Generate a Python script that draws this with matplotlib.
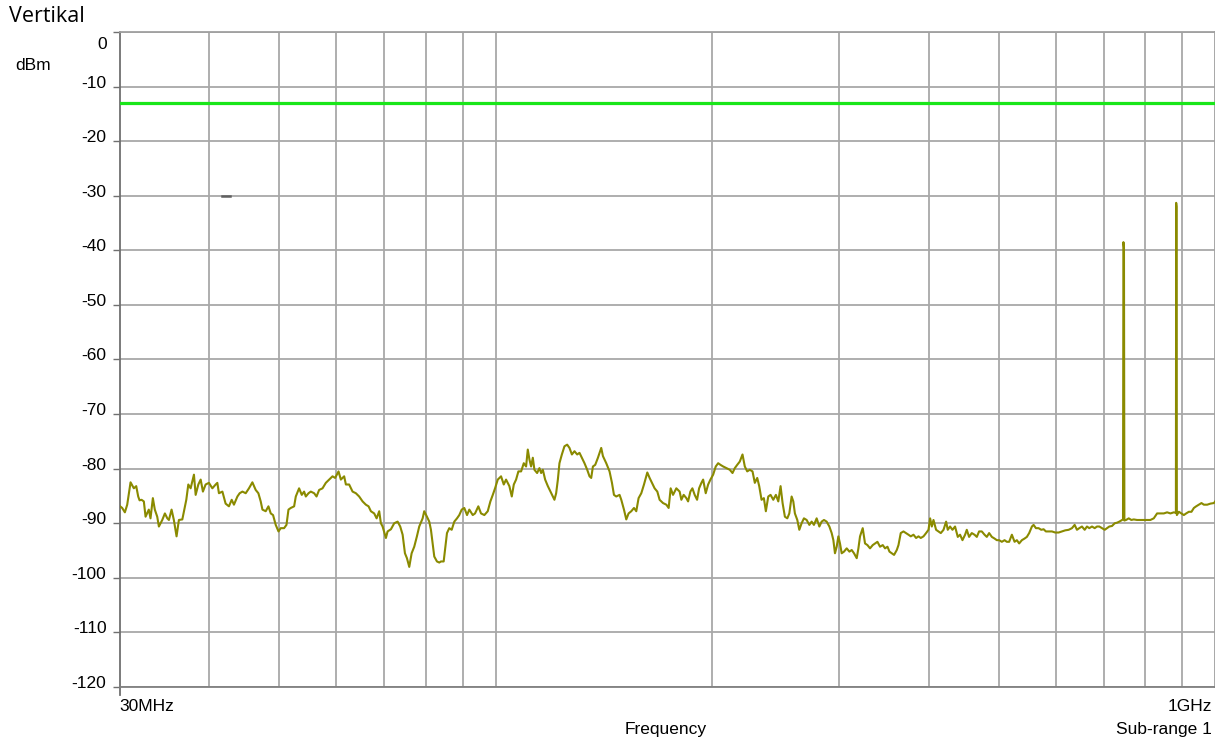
import numpy as np
import matplotlib.pyplot as plt
from matplotlib.ticker import NullLocator, NullFormatter
from matplotlib.transforms import offset_copy

## data (MHz, dBm)
freq_mhz = [
    30.00, 30.26, 30.52, 30.75, 31.08, 31.41, 31.65, 31.85, 31.99, 32.19, 32.43, 32.61, 32.95, 33.13, 33.38,
    33.59, 33.85, 34.03, 34.40, 34.69, 34.96, 35.14, 35.44, 35.70, 36.01, 36.28, 36.68, 36.87, 37.15, 37.39,
    37.67, 38.07, 38.28, 38.61, 38.90, 39.18, 39.52, 39.94, 40.38, 40.81, 41.03, 41.24, 41.70, 42.13, 42.58,
    42.96, 43.27, 43.75, 44.07, 44.46, 44.93, 45.40, 45.90, 46.39, 46.79, 47.14, 47.40, 47.90, 48.32, 48.68,
    49.04, 49.46, 49.90, 50.26, 50.80, 51.19, 51.52, 51.90, 52.46, 52.74, 53.30, 53.76, 54.16, 54.46, 54.93,
    55.34, 55.93, 56.36, 56.83, 57.45, 58.06, 58.68, 59.32, 59.82, 60.47, 60.92, 61.57, 61.91, 62.56, 63.25,
    63.92, 64.60, 65.31, 66.00, 66.57, 67.07, 67.78, 68.31, 68.88, 69.25, 69.63, 70.37, 70.75, 71.51, 72.27,
    73.06, 73.67, 74.24, 74.79, 75.27, 75.83, 76.41, 77.05, 77.71, 78.29, 79.15, 79.55, 80.25, 80.84, 81.28,
    81.73, 82.15, 82.86, 83.48, 83.93, 84.66, 85.02, 85.56, 86.19, 86.86, 87.59, 88.35, 89.00, 89.69, 90.44,
    91.23, 91.90, 92.92, 93.60, 94.59, 95.41, 96.43, 97.48, 98.31, 99.07, 99.79, 100.66, 101.73, 102.61, 103.37,
    104.47, 105.28, 105.96, 106.74, 107.53, 108.47, 109.40, 110.21, 110.81, 111.39, 111.99, 112.61, 113.19, 114.17, 115.02,
    115.65, 116.28, 117.14, 118.16, 119.15, 120.07, 120.68, 121.34, 122.01, 122.63, 123.58, 124.61, 125.70, 126.63, 127.61,
    128.67, 129.79, 130.75, 131.76, 132.86, 134.02, 135.01, 135.75, 136.49, 137.50, 138.70, 140.17, 140.94, 142.44, 143.95,
    145.07, 146.00, 147.07, 148.64, 149.46, 150.75, 151.87, 153.00, 154.32, 155.67, 156.81, 157.97, 159.35, 160.73, 162.44,
    163.65, 164.91, 166.29, 167.73, 168.97, 170.82, 172.65, 173.93, 175.05, 176.38, 178.26, 180.16, 181.15, 182.50, 184.07,
    185.09, 186.45, 187.66, 189.04, 190.50, 191.73, 193.15, 194.22, 195.84, 197.36, 198.81, 200.55, 202.22, 203.79, 205.30,
    207.09, 209.28, 211.51, 213.36, 214.94, 216.60, 218.39, 220.30, 221.93, 223.65, 225.52, 227.47, 229.16, 230.93, 232.41,
    234.14, 235.88, 237.39, 239.23, 241.01, 243.09, 245.14, 247.03, 248.85, 250.45, 252.31, 254.26, 255.89, 257.80, 259.19,
    260.52, 262.53, 264.22, 266.18, 268.16, 270.50, 272.84, 274.86, 276.88, 279.30, 281.72, 283.81, 285.92, 288.38, 290.90,
    293.06, 294.65, 296.16, 297.79, 299.40, 300.96, 302.60, 304.84, 307.50, 310.16, 312.46, 314.76, 317.51, 319.23, 320.89,
    323.67, 326.07, 328.59, 331.33, 334.22, 336.68, 339.28, 342.11, 345.10, 347.66, 350.35, 352.60, 355.22, 357.82, 360.95,
    362.91, 365.55, 368.75, 371.82, 374.70, 377.48, 380.78, 383.95, 386.92, 389.75, 393.16, 396.43, 399.50, 401.58, 403.76,
    405.94, 409.33, 412.49, 415.55, 419.18, 422.67, 424.90, 428.05, 431.36, 434.95, 438.75, 441.97, 445.39, 449.14, 451.58,
    454.93, 458.86, 462.87, 466.31, 469.72, 473.83, 477.97, 481.47, 485.05, 489.29, 493.51, 497.18, 500.87, 505.20, 509.61,
    513.35, 517.16, 521.68, 526.19, 530.10, 533.98, 538.65, 543.35, 547.33, 551.40, 556.22, 559.23, 563.39, 568.25, 573.04,
    577.47, 581.70, 586.78, 593.04, 599.36, 605.87, 612.33, 618.85, 625.63, 632.30, 637.76, 642.50, 647.27, 652.86, 658.57,
    663.39, 668.32, 674.16, 679.98, 685.03, 690.12, 696.08, 702.16, 707.31, 712.56, 718.79, 725.00, 730.38, 735.81, 742.17,
    744.50, 745.50, 746.80, 747.80, 751.81, 758.30, 764.62, 770.53, 778.74, 787.04, 795.66, 804.14, 812.63, 821.54, 830.29,
    839.14, 848.34, 857.38, 866.52, 876.01, 881.80, 882.60, 883.60, 884.50, 890.17, 897.59, 904.53, 911.25, 919.12, 926.87,
    934.04, 940.88, 949.10, 957.01, 964.41, 974.69, 985.08, 995.87, 1000.00,
]
level_dbm = [
    -86.8, -87.2, -88.0, -86.6, -82.5, -83.6, -83.2, -85.1, -85.8, -85.7, -86.0, -88.8, -87.5, -89.1, -85.4,
    -87.5, -88.8, -90.6, -89.4, -88.2, -89.1, -89.4, -87.5, -89.4, -92.4, -89.4, -89.3, -87.8, -85.7, -82.9,
    -83.6, -81.1, -84.8, -82.9, -82.0, -84.2, -82.9, -82.6, -83.6, -82.9, -82.6, -84.5, -84.2, -86.4, -86.9,
    -85.7, -86.6, -85.1, -84.5, -84.2, -84.5, -83.6, -82.5, -83.9, -84.5, -86.0, -87.5, -87.8, -86.9, -88.2,
    -88.5, -90.3, -91.5, -90.9, -90.9, -90.3, -87.5, -87.2, -86.9, -85.1, -83.6, -84.8, -84.2, -85.1, -84.5,
    -84.2, -84.5, -85.1, -83.9, -83.6, -82.6, -82.0, -81.4, -81.7, -80.5, -82.0, -81.4, -82.9, -82.9, -84.2,
    -84.5, -85.1, -86.0, -86.6, -86.9, -87.8, -88.2, -89.1, -87.8, -90.0, -90.6, -92.7, -91.5, -91.1, -90.0,
    -89.7, -90.6, -92.1, -95.5, -96.4, -98.0, -95.5, -94.3, -92.4, -90.6, -89.1, -87.8, -88.8, -89.7, -91.2,
    -93.7, -96.1, -97.0, -97.2, -97.0, -97.0, -94.9, -91.8, -90.9, -91.2, -89.7, -89.1, -88.5, -87.5, -87.2,
    -88.5, -87.5, -88.5, -88.2, -86.9, -88.2, -88.5, -87.8, -86.0, -84.8, -83.6, -82.0, -81.4, -82.9, -82.0,
    -83.2, -85.1, -82.9, -82.0, -80.5, -80.5, -79.0, -79.6, -76.5, -78.3, -79.6, -78.0, -80.2, -80.8, -79.9,
    -80.8, -80.2, -82.0, -83.2, -84.2, -85.1, -85.7, -84.5, -82.0, -79.0, -77.4, -75.9, -75.6, -76.2, -77.4,
    -76.8, -77.4, -77.1, -78.0, -79.0, -80.2, -81.4, -81.7, -79.6, -79.3, -78.0, -76.2, -77.7, -79.0, -80.5,
    -82.6, -84.8, -85.1, -84.8, -85.7, -87.5, -89.3, -88.2, -87.8, -87.2, -87.8, -85.4, -84.5, -82.9, -80.7,
    -81.7, -82.6, -83.6, -84.2, -85.7, -86.3, -86.6, -87.2, -83.6, -84.8, -83.6, -84.2, -85.7, -84.8, -85.4,
    -86.0, -84.2, -83.6, -84.8, -85.7, -83.6, -82.6, -82.0, -84.5, -82.9, -82.0, -81.1, -79.6, -79.0, -79.3,
    -79.6, -79.9, -80.2, -80.8, -79.9, -79.3, -78.7, -77.4, -79.6, -80.5, -80.2, -80.5, -82.6, -81.7, -83.2,
    -85.7, -85.4, -87.8, -85.1, -84.8, -85.7, -84.8, -86.0, -83.2, -86.3, -88.8, -89.1, -88.2, -85.1, -86.0,
    -88.2, -89.4, -91.2, -90.0, -89.1, -89.4, -90.3, -89.7, -90.3, -89.1, -90.6, -89.7, -89.4, -89.7, -90.6,
    -91.8, -93.1, -95.5, -94.3, -92.4, -93.7, -95.5, -95.2, -94.6, -95.2, -94.9, -95.5, -96.4, -94.6, -92.4,
    -90.9, -93.7, -94.0, -94.6, -94.0, -93.7, -93.4, -94.3, -94.0, -94.6, -94.3, -95.2, -95.5, -95.8, -94.9,
    -94.0, -91.8, -91.5, -91.8, -92.1, -92.4, -92.1, -92.7, -92.4, -92.7, -92.4, -91.8, -91.2, -89.1, -90.6,
    -89.4, -91.2, -91.5, -91.8, -91.2, -89.7, -91.2, -90.6, -91.2, -90.6, -92.5, -92.1, -93.1, -92.1, -91.2,
    -92.5, -91.8, -92.1, -92.5, -91.5, -91.5, -92.1, -92.5, -91.8, -92.5, -92.8, -93.1, -93.1, -93.4, -93.1,
    -93.4, -93.4, -92.1, -93.4, -93.1, -93.7, -93.1, -92.8, -92.5, -91.8, -90.6, -90.3, -90.9, -90.9, -91.2,
    -91.1, -91.5, -91.5, -91.5, -91.7, -91.7, -91.5, -91.3, -91.2, -90.9, -90.3, -91.2, -90.9, -90.6, -91.2,
    -90.6, -90.9, -90.6, -90.9, -90.6, -90.6, -90.9, -91.2, -90.9, -90.6, -90.5, -90.0, -89.9, -89.7, -89.4,
    -89.3, -38.5, -39.5, -89.5, -89.4, -89.1, -89.4, -89.3, -89.4, -89.4, -89.4, -89.4, -89.4, -89.1, -88.2,
    -88.2, -88.2, -88.0, -88.2, -88.0, -88.1, -31.3, -32.0, -88.5, -87.9, -88.2, -88.5, -88.2, -87.9, -87.9,
    -87.2, -86.9, -86.6, -86.3, -86.6, -86.6, -86.4, -86.3, -86.0,
]

limit_dbm = -13
grid_mhz = [40, 50, 60, 70, 80, 90, 100, 200, 300, 400, 500, 600, 700, 800, 900]
y_ticks = list(range(0, -121, -10))
y_labels = [str(v) for v in y_ticks]

plt.rcParams['font.family'] = ['Liberation Sans', 'DejaVu Sans']

W, H = 1215, 746
fig = plt.figure(figsize=(W / 100, H / 100), dpi=100)
ax = fig.add_axes([119.5 / W, 1 - 687 / H, 1095.7 / W, 655 / H])

ax.set_xscale('log')
ax.set_xlim(30, 1000)
ax.set_ylim(-120, 0)

ax.xaxis.set_minor_locator(NullLocator())
ax.xaxis.set_minor_formatter(NullFormatter())
ax.set_xticks(grid_mhz)
ax.set_xticklabels([''] * len(grid_mhz))
ax.tick_params(axis='x', length=0)
ax.set_yticks(y_ticks)
ax.set_yticklabels([''] * len(y_ticks))
ax.tick_params(axis='y', length=5, width=1, color='#707070')

# y labels sit on their grid line, "0" hangs below the top edge
lab_tr = offset_copy(ax.get_yaxis_transform(), fig=fig, x=-13 * 0.72, y=-1 * 0.72, units='points')
for v, s in zip(y_ticks, y_labels):
    va = 'top' if v == 0 else 'baseline'
    yy = v - 0.8 if v == 0 else v
    ax.text(0, yy, s, transform=lab_tr, ha='right', va=va, fontsize=12.5)

ax.grid(True, color='#a8a8a8', lw=1.3)
ax.set_axisbelow(True)
for side in ['top', 'right', 'bottom']:
    ax.spines[side].set_color('#a0a0a0')
    ax.spines[side].set_linewidth(1.3)
ax.spines['left'].set_color('#707070')
ax.spines['left'].set_linewidth(1.3)
ax.spines['bottom'].set_color('#808080')

# limit line and trace
ax.axhline(limit_dbm, color='#19e619', lw=2.3, zorder=3)
ax.plot(freq_mhz, level_dbm, color='#8a8a00', lw=1.5, zorder=4)
ax.plot([41.7, 42.7], [-30, -30], color='#606060', lw=1.8, zorder=3)

# bottom tick at start frequency
ax.plot([30, 30], [-120, -121.5], color='#707070', lw=1.3, clip_on=False)

fig.text(119 / W, 1 - 699 / H, '30MHz', ha='left', va='top', fontsize=12.5)
fig.text(1212 / W, 1 - 699 / H, '1GHz', ha='right', va='top', fontsize=12.5)
fig.text(666 / W, 1 - 722 / H, 'Frequency', ha='center', va='top', fontsize=12.5)
fig.text(1212 / W, 1 - 722 / H, 'Sub-range 1', ha='right', va='top', fontsize=12.5)

fig.text(9 / W, 1 - 6 / H, 'Vertikal', ha='left', va='top', fontsize=15.5,
         family=['Open Sans', 'DejaVu Sans'])
fig.text(15 / W, 1 - 66 / H, 'dBm', ha='left', va='center', fontsize=12.5)

fig.savefig('out.png', dpi=100)
